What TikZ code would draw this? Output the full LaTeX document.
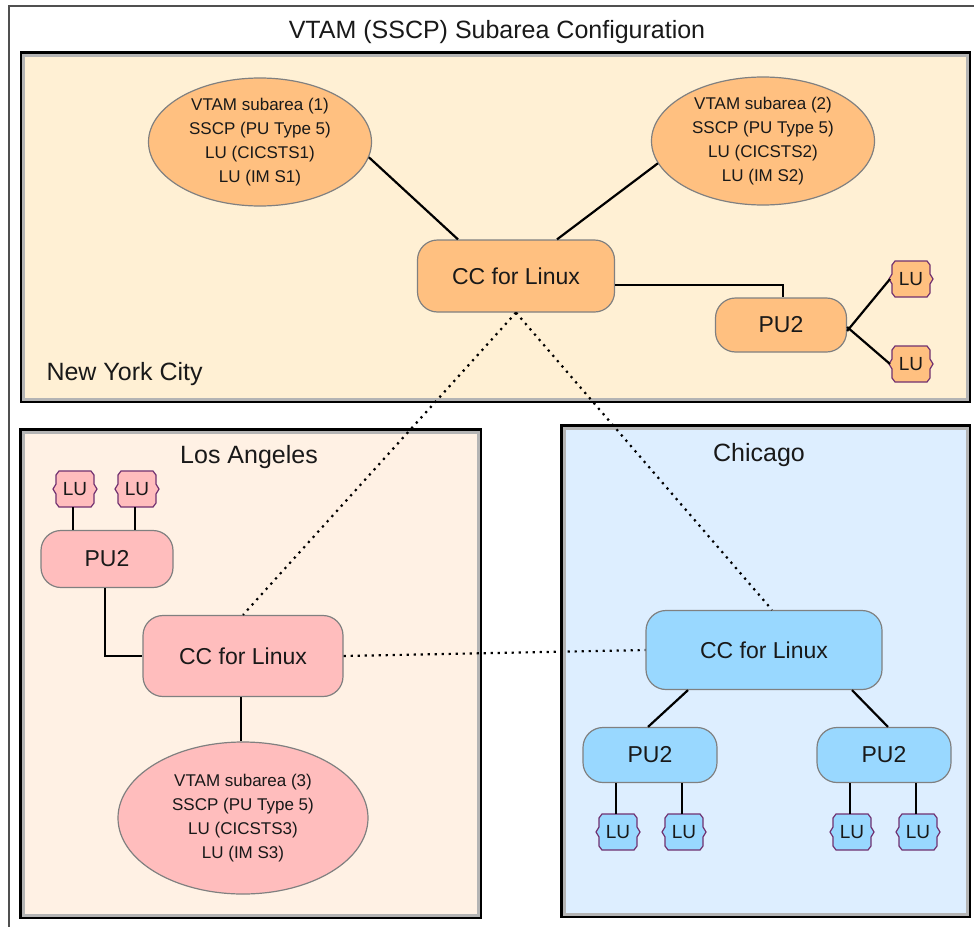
\documentclass[tikz,border=0pt]{standalone}
\usepackage{fontspec}
\setmainfont{Liberation Sans}
\usetikzlibrary{shapes.geometric,calc}
\definecolor{nycbg}{RGB}{255,240,212}
\definecolor{labg}{RGB}{255,241,228}
\definecolor{chibg}{RGB}{221,238,255}
\definecolor{orangefill}{RGB}{255,192,128}
\definecolor{pinkfill}{RGB}{255,189,189}
\definecolor{bluefill}{RGB}{153,216,255}
\definecolor{nodeborder}{RGB}{128,128,128}
\definecolor{lupurple}{RGB}{112,48,112}
\definecolor{boxgray}{RGB}{180,180,180}
\definecolor{framecol}{RGB}{80,80,80}
\definecolor{txt}{RGB}{25,25,25}
\newcommand{\regionbox}[5]{%
  \fill[#5] (#1,#2) rectangle (#3,#4);
  \draw[boxgray,line width=3] ($(#1,#2)+(4,4)$) rectangle ($(#3,#4)+(-4,-4)$);
  \draw[black,line width=2.5] ($(#1,#2)+(1.25,1.25)$) rectangle ($(#3,#4)+(-1.25,-1.25)$);}
\begin{document}
\begin{tikzpicture}[x=1pt,y=-1pt,
  every node/.style={text=txt},
  titlefont/.style={font=\fontsize{25}{30}\selectfont},
  vtam/.style={ellipse, draw=nodeborder, line width=1.2, fill=#1, inner sep=0,
    minimum width=223, minimum height=128, align=center,
    font=\fontsize{17}{24}\selectfont},
  ccbox/.style={rectangle, rounded corners=20, draw=nodeborder, line width=1.2, fill=#1,
    inner sep=0, font=\fontsize{23}{26}\selectfont},
  pubox/.style={rectangle, rounded corners=20, draw=nodeborder, line width=1.2, fill=#1,
    inner sep=0, minimum width=133, minimum height=56, font=\fontsize{23}{26}\selectfont},
  lu/.style={rectangle, inner sep=0, minimum width=48, minimum height=40,
    font=\fontsize{19}{20}\selectfont,
    path picture={\filldraw[fill=#1, draw=lupurple, line width=1.2]
      ([shift={(-16,-18)}]path picture bounding box.center) --
      ([shift={(16,-18)}]path picture bounding box.center) --
      ([shift={(19,-14)}]path picture bounding box.center) --
      ([shift={(19,-5)}]path picture bounding box.center) --
      ([shift={(22,0)}]path picture bounding box.center) --
      ([shift={(19,5)}]path picture bounding box.center) --
      ([shift={(19,14)}]path picture bounding box.center) --
      ([shift={(16,18)}]path picture bounding box.center) --
      ([shift={(-16,18)}]path picture bounding box.center) --
      ([shift={(-19,14)}]path picture bounding box.center) --
      ([shift={(-19,5)}]path picture bounding box.center) --
      ([shift={(-22,0)}]path picture bounding box.center) --
      ([shift={(-19,-5)}]path picture bounding box.center) --
      ([shift={(-19,-14)}]path picture bounding box.center) -- cycle;}},
  link/.style={black, line width=2.2},
  dotlink/.style={black, line width=2.2, dash pattern=on 2.2pt off 4.8pt}
]
\useasboundingbox (0,0) rectangle (974,926);
\clip (0,0) rectangle (974,926);
\fill[white] (0,0) rectangle (974,926);
\draw[framecol, line width=1.5] (9,6) rectangle (1000,960);

\node[titlefont] (title) at (497,32) {VTAM (SSCP) Subarea Configuration};

\regionbox{19.5}{51}{971}{403}{nycbg}
\regionbox{19}{428}{482}{919}{labg}
\regionbox{560}{424}{971}{918}{chibg}

\node[titlefont, anchor=west] (nyclabel) at (43,374) {New York City};
\node[titlefont] (lalabel) at (249,457) {Los Angeles};
\node[titlefont] (chilabel) at (759,455) {Chicago};

% New York City
\node[vtam=orangefill] (e1) at (260,142) {VTAM subarea (1)\\SSCP (PU Type 5)\\LU (CICSTS1)\\LU (IM S1)};
\node[vtam=orangefill] (e2) at (763,141) {VTAM subarea (2)\\SSCP (PU Type 5)\\LU (CICSTS2)\\LU (IM S2)};
\node[ccbox=orangefill, minimum width=197, minimum height=72] (nycc) at (516,276) {CC for Linux};
\node[pubox=orangefill, minimum width=131, minimum height=54] (nypu) at (781,325) {PU2};
\node[lu=orangefill] (nylu1) at (911,279) {LU};
\node[lu=orangefill] (nylu2) at (911,364) {LU};

% Los Angeles
\node[lu=pinkfill] (lalu1) at (75,489) {LU};
\node[lu=pinkfill] (lalu2) at (137,489) {LU};
\node[pubox=pinkfill, minimum width=132, minimum height=57] (lapu) at (107,559) {PU2};
\node[ccbox=pinkfill, minimum width=200, minimum height=81] (lacc) at (243,656) {CC for Linux};
\node[vtam=pinkfill, minimum width=250, minimum height=152] (e3) at (243,818) {VTAM subarea (3)\\SSCP (PU Type 5)\\LU (CICSTS3)\\LU (IM S3)};

% Chicago
\node[ccbox=bluefill, minimum width=236, minimum height=79] (chcc) at (764,650) {CC for Linux};
\node[pubox=bluefill, minimum width=134, minimum height=55] (chpu1) at (650,755) {PU2};
\node[pubox=bluefill, minimum width=134, minimum height=55] (chpu2) at (884,755) {PU2};
\node[lu=bluefill] (chlu1) at (618,832) {LU};
\node[lu=bluefill] (chlu2) at (684,832) {LU};
\node[lu=bluefill] (chlu3) at (852,832) {LU};
\node[lu=bluefill] (chlu4) at (918,832) {LU};

% solid connectors
\draw[link] (e1.-8) -- ([xshift=-58]nycc.north);
\draw[link] (e2.192) -- ([xshift=41]nycc.north);
\draw[link] ([yshift=-9]nycc.east) -| ([xshift=2]nypu.north);
\draw[link] ([yshift=-6]nypu.east) -- ([xshift=-21]nylu1.center);
\draw[link] ([yshift=-2]nypu.east) -- ([xshift=-21]nylu2.center);

\draw[link] ([xshift=-2,yshift=-18]lalu1.center) -- ([xshift=-2]lalu1.center |- lapu.north);
\draw[link] ([xshift=-2,yshift=-18]lalu2.center) -- ([xshift=-2]lalu2.center |- lapu.north);
\draw[link] ([xshift=-2]lapu.south) |- (lacc.west);
\draw[link] ([xshift=-2]lacc.south) -- ([xshift=-2]e3.north);

\draw[link] ([xshift=-76]chcc.south) -- ([xshift=-2]chpu1.north);
\draw[link] ([xshift=88]chcc.south) -- ([xshift=4]chpu2.north);
\foreach \l/\p in {chlu1/chpu1, chlu2/chpu1, chlu3/chpu2, chlu4/chpu2}{
  \draw[link] ([xshift=-2,yshift=18]\l.center) -- ([xshift=-2]\l.center |- \p.south);
}

% dotted connectors
\draw[dotlink] (nycc.south) -- (lacc.north);
\draw[dotlink] (nycc.south) -- ([xshift=8]chcc.north);
\draw[dotlink] (lacc.east) -- (chcc.west);
\end{tikzpicture}
\end{document}
